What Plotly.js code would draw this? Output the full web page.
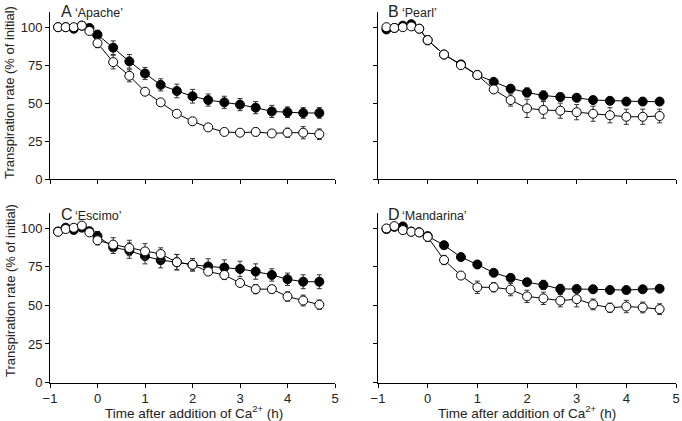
<!DOCTYPE html>
<html>
<head>
<meta charset="utf-8">
<script src="https://cdn.plot.ly/plotly-3.0.1.min.js"></script>
<style>html,body{margin:0;padding:0;background:#fff;}#chart{width:682px;height:421px;}</style>
</head>
<body>
<div id="chart"></div>
<script>
// Time (h) relative to Ca2+ addition
const times = [-0.83,-0.67,-0.5,-0.33,-0.17,0,0.33,0.67,1,1.33,1.67,2,2.33,2.67,3,3.33,3.67,4,4.33,4.67];

// A 'Apache'
const apacheFilled    = [100,100,99,101,99.5,95,86.5,77.5,69.5,62,58,54.5,52,50.5,49,47,44.5,44,43.5,43.5];
const apacheFilledErr = [0,0,0,0,1,3,4.5,4.5,4,4,4.5,4.5,4,4,4,4,4,3.5,3.5,3.5];
const apacheOpen      = [100,100,100,101,97.5,89.5,77,68,57.5,50.5,43,38,34,31,30.5,31,30,30.5,30.5,29.5];
const apacheOpenErr   = [0,0,0,0,1,3,4.5,4,2,1.5,2,2.5,1.5,1.5,2,2.5,2,3,4,3.5];

// B 'Pearl'
const pearlFilled    = [98.5,99.5,101,102,99,91.5,82,75.5,68.5,64,59.5,57,55,54,53.5,52,51.5,51,51,51];
const pearlFilledErr = [0,0,0,0,1,3,2.5,2,2,2,2.5,3,3,2.5,2.5,2,2,2,2,2];
const pearlOpen      = [100,99.5,100,100.5,99,91.5,82,75,68.5,59,52,46.5,45.5,45,44,43,42,41,41,41.5];
const pearlOpenErr   = [0,0,0,0,1,3,2.5,2,1.5,1.5,4,6,5.5,5,5,5,5,5,5,4.5];

// C 'Escimo'
const escimoFilled    = [98,100.5,99,100.5,98.2,95,87.7,85.6,82,79.4,78.1,76.4,75.3,74.6,73.7,72,69.8,67,65.4,65.4];
const escimoFilledErr = [0,0,0,0,1,3,4,5,5,5,5,4,5,5,5,5,4,4,4.5,4.5];
const escimoOpen      = [97.8,99.6,100.4,101.8,97.4,92.3,89.5,87.3,85.1,83.4,78.1,76.4,72,69.8,64.6,60.6,60.6,55.8,53.2,50.5];
const escimoOpenErr   = [0,0,0,0,1,3,4.5,5,5,4,5,4,2,3,2,3,2.5,3,3.5,3];

// D 'Mandarina'
const mandFilled    = [99.6,101,101.3,98,97.5,95,89.1,81.4,76.6,71.2,67.9,65.1,63.3,60.7,60.7,60.5,60,60,60.5,60.9];
const mandFilledErr = [0,0,0,0,0.5,1.5,1.5,1.5,1.5,1.5,1.5,2,3,3,2,1.5,1.5,1.5,1.5,1.5];
const mandOpen      = [100,101.5,98.9,97.8,97.4,94.5,79.5,69.4,61.8,61.8,60.3,55.9,54.6,53.1,54.1,50.7,48.5,49.3,48.7,47.6];
const mandOpenErr   = [0,0,0,0,0.5,3,3,2,4,3,4,4,4,4,5,3.5,3,4,3.5,3.5];

const panelLetters = ['A', 'B', 'C', 'D'];
const panelNames = ['Apache', 'Pearl', 'Escimo', 'Mandarina'];

const panels = [
  {f: apacheFilled, fe: apacheFilledErr, o: apacheOpen, oe: apacheOpenErr, ax: ''},
  {f: pearlFilled,  fe: pearlFilledErr,  o: pearlOpen,  oe: pearlOpenErr,  ax: '2'},
  {f: escimoFilled, fe: escimoFilledErr, o: escimoOpen, oe: escimoOpenErr, ax: '3'},
  {f: mandFilled,   fe: mandFilledErr,   o: mandOpen,   oe: mandOpenErr,   ax: '4'}
];

const errStyle = (arr) => ({type: 'data', array: arr, visible: true, color: '#333', thickness: 1, width: 2.5});
const traces = [];
panels.forEach(p => {
  traces.push({
    x: times, y: p.f, xaxis: 'x' + p.ax, yaxis: 'y' + p.ax, type: 'scatter', mode: 'lines+markers',
    line: {color: '#000', width: 1}, cliponaxis: false,
    marker: {symbol: 'circle', size: 9, color: '#000', line: {color: '#000', width: 1}},
    error_y: errStyle(p.fe), showlegend: false, hoverinfo: 'skip'
  });
  traces.push({
    x: times, y: p.o, xaxis: 'x' + p.ax, yaxis: 'y' + p.ax, type: 'scatter', mode: 'lines+markers',
    line: {color: '#000', width: 1}, cliponaxis: false,
    marker: {symbol: 'circle', size: 9, color: '#fff', line: {color: '#000', width: 1}},
    error_y: errStyle(p.oe), showlegend: false, hoverinfo: 'skip'
  });
});

const W = 682, H = 421;
const colA = [50 / W, 335 / W], colB = [378 / W, 676 / W];
const rowT = [1 - 179 / H, 1 - 12 / H], rowB = [1 - 382.5 / H, 1 - 213 / H];
const xTicks = [-1, 0, 1, 2, 3, 4, 5];
const xTickText = ['\u22121', '0', '1', '2', '3', '4', '5'];
const yTicks = [0, 25, 50, 75, 100];

function xa(domain, anchor, labels) {
  return {domain: domain, anchor: anchor, range: [-1, 5], tickmode: 'array', tickvals: xTicks, ticktext: xTickText,
    showticklabels: labels, ticks: 'outside', ticklen: 4, tickwidth: 1, tickcolor: '#000',
    showline: true, linecolor: '#000', linewidth: 1, showgrid: false, zeroline: false,
    tickfont: {size: 13, color: '#222'}};
}
function ya(domain, anchor, labels) {
  return {domain: domain, anchor: anchor, range: [0, 110], tickmode: 'array', tickvals: yTicks,
    showticklabels: labels, ticks: 'outside', ticklen: 4, tickwidth: 1, tickcolor: '#000',
    showline: true, linecolor: '#000', linewidth: 1, showgrid: false, zeroline: false,
    tickfont: {size: 13, color: '#222'}};
}

const font = {family: 'Liberation Sans, Arial, Helvetica, sans-serif', size: 12, color: '#222'};
const annotations = [];
const labelPos = [[60, 2], [387, 2], [60, 205], [387, 205]];
panelLetters.forEach((L, i) => {
  const [px, top] = labelPos[i];
  annotations.push({xref: 'paper', yref: 'paper', x: px / W, y: 1 - top / H, xanchor: 'left', yanchor: 'top',
    showarrow: false, text: L, font: {size: 16, color: '#222'}, borderpad: 0});
  annotations.push({xref: 'paper', yref: 'paper', x: (px + 14) / W, y: 1 - (top + 3) / H, xanchor: 'left', yanchor: 'top',
    showarrow: false, text: '\u2018' + panelNames[i] + '\u2019', font: {size: 12.5, color: '#222'}, borderpad: 0});
});
[93, 291].forEach(yc => annotations.push({
  xref: 'paper', yref: 'paper', x: 10 / W, y: 1 - yc / H, xanchor: 'center', yanchor: 'middle', showarrow: false,
  textangle: -90, text: 'Transpiration rate (% of initial)', font: {size: 13, color: '#222'}
}));
[194, 527].forEach(xc => annotations.push({
  xref: 'paper', yref: 'paper', x: xc / W, y: 1 - 412 / H, xanchor: 'center', yanchor: 'middle', showarrow: false,
  text: 'Time after addition of Ca<sup>2+</sup> (h)', font: {size: 13.5, color: '#222'}
}));

const layout = {
  width: W, height: H, margin: {l: 0, r: 0, t: 0, b: 0}, paper_bgcolor: '#fff', plot_bgcolor: '#fff', font: font,
  showlegend: false,
  xaxis: xa(colA, 'y', false), yaxis: ya(rowT, 'x', true),
  xaxis2: xa(colB, 'y2', false), yaxis2: ya(rowT, 'x2', false),
  xaxis3: xa(colA, 'y3', true), yaxis3: ya(rowB, 'x3', true),
  xaxis4: xa(colB, 'y4', true), yaxis4: ya(rowB, 'x4', false),
  annotations: annotations
};

Plotly.newPlot('chart', traces, layout, {displayModeBar: false, staticPlot: true});
</script>
</body>
</html>
